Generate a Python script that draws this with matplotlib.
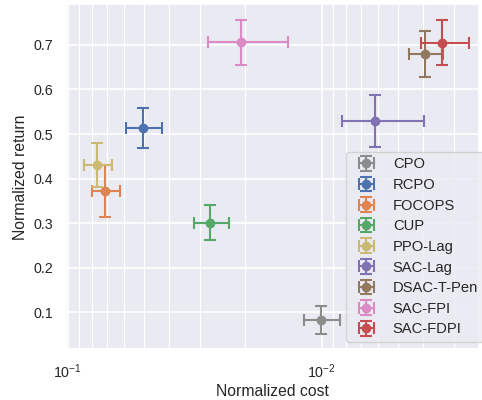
import matplotlib
matplotlib.use("Agg")
import matplotlib.pyplot as plt
import matplotlib.ticker as mticker
import seaborn as sns

algorithms = ["CPO", "RCPO", "FOCOPS", "CUP", "PPO-Lag", "SAC-Lag", "DSAC-T-Pen", "SAC-FPI", "SAC-FDPI"]
cost_mean = [0.0101, 0.0507, 0.0710, 0.0275, 0.0767, 0.00614, 0.00392, 0.0208, 0.00335]
cost_err = [0.0016, 0.0081, 0.0090, 0.0044, 0.0097, 0.00218, 0.00060, 0.0072, 0.00071]
return_mean = [0.082, 0.514, 0.372, 0.301, 0.431, 0.529, 0.679, 0.706, 0.705]
return_err = [0.032, 0.045, 0.058, 0.039, 0.049, 0.058, 0.052, 0.0505, 0.051]

sns.set_theme(style="darkgrid")
plt.rcParams['font.family'] = ['Liberation Sans', 'DejaVu Sans']

deep = sns.color_palette("deep")
colors = [deep[7], deep[0], deep[1], deep[2], deep[8], deep[4], deep[5], deep[6], deep[3]]

fig = plt.figure(figsize=(4.82, 4.0), dpi=100)
ax = fig.add_axes([0.137, 0.127, 0.994 - 0.137, 0.989 - 0.127])

for name, x, xe, y, ye, c in zip(algorithms, cost_mean, cost_err, return_mean, return_err, colors):
    ax.errorbar(x, y, xerr=xe, yerr=ye, fmt='o', color=c, ecolor=c,
                markersize=6, elinewidth=1.5, capsize=4, capthick=1.5, label=name)

ax.set_xscale('log')
ax.set_xlim(0.1014, 0.0024)
ax.set_ylim(0.017, 0.791)
ax.xaxis.set_minor_formatter(mticker.NullFormatter())
ax.grid(which='major', color='white', linewidth=1.2)
ax.grid(which='minor', axis='x', color='white', linewidth=0.9)
ax.tick_params(axis='both', labelsize=10.3)
ax.set_xlabel("Normalized cost", fontsize=11.3, labelpad=2.5)
ax.set_ylabel("Normalized return", fontsize=11.3)
ax.legend(loc='lower right', bbox_to_anchor=(1.012, 0.02), borderaxespad=0,
          fontsize=10.6, labelspacing=0.45, frameon=True)

fig.savefig("out.png", dpi=100)
